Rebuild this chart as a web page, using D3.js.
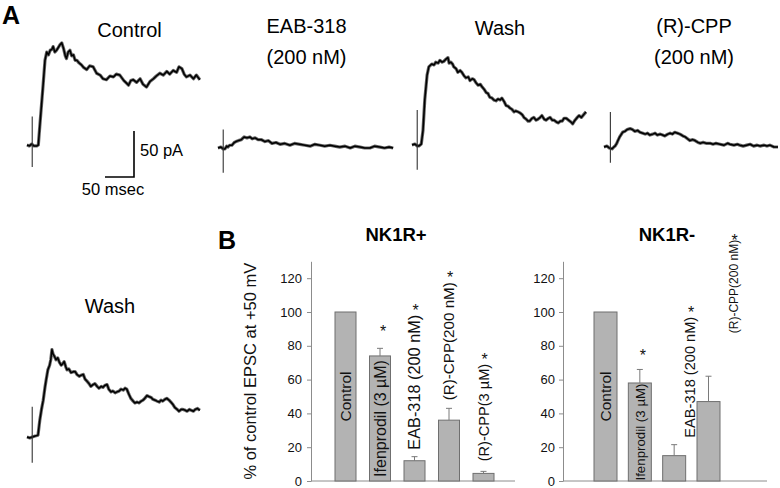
<!DOCTYPE html>
<html>
<head>
<meta charset="utf-8">
<script src="https://cdn.jsdelivr.net/npm/d3@7"></script>
<style>
  html, body { margin: 0; padding: 0; background: #fff; }
  svg { display: block; font-family: "Liberation Sans", Arial, sans-serif; }
</style>
</head>
<body>
<svg id="fig" width="780" height="488"></svg>
<script>
// ---------------- DATA ----------------
// Panel A: EPSC traces, [time (ms), current (pA) relative to baseline]
const traceControl = [[0,0],[4,-1],[8,1],[12,-1],[17,-1],[19.5,0],[22,20],[28,67],[31,92],[34,101],[37,98],[40,103],[43,104],[45,107],[48,101],[51,103],[54,106],[57,109],[60,111],[63,105],[66,97],[68,94],[71,101],[74,103],[77,97],[80,98],[83,92],[86,92],[90,89],[94,87],[98,84],[103,82],[108,86],[114,85],[120,78],[126,76],[131,72],[137,71],[143,75],[149,74],[154,77],[160,76],[167,70],[172,67],[175,65],[179,70],[183,71],[189,68],[195,72],[200,66],[206,63],[212,69],[218,72],[223,75],[229,78],[235,76],[241,80],[246,77],[252,81],[258,79],[262,85],[267,83],[271,77],[275,74],[281,76],[287,72],[292,76],[298,71]];
const traceEAB = [[0,0],[5,1],[9,-1],[12,-1],[15,2],[17,1],[20,3],[24,3],[28,6],[31,7],[35,8],[40,9],[45,12],[50,11],[55,12],[59,10],[64,11],[69,9],[75,9],[81,7],[87,8],[93,5],[100,6],[107,4],[115,5],[124,3],[132,5],[141,4],[150,3],[159,2],[167,4],[176,3],[184,2],[193,3],[201,2],[210,1],[219,2],[228,0],[236,2],[245,1],[253,0],[262,0],[270,2],[279,1],[287,0],[295,1],[302,0]];
const traceWash1 = [[0,0],[5,1],[9,-1],[12,-1],[16,1],[19,16],[22,49],[26,76],[29,85],[34,88],[38,87],[41,90],[45,89],[48,92],[52,90],[55,91],[58,93],[62,95],[64,89],[67,90],[70,88],[72,85],[76,83],[79,79],[83,81],[86,79],[90,75],[93,73],[97,74],[100,70],[104,72],[107,71],[110,68],[114,65],[118,66],[121,63],[125,60],[128,57],[131,56],[134,52],[138,51],[141,49],[145,48],[148,50],[152,49],[155,51],[159,47],[162,43],[166,42],[169,40],[172,39],[176,36],[179,37],[183,36],[186,35],[190,33],[193,30],[197,28],[200,26],[203,26],[207,29],[210,30],[214,27],[217,28],[221,30],[224,32],[228,28],[231,27],[235,29],[238,30],[242,27],[245,27],[249,25],[252,24],[256,26],[259,26],[262,29],[266,29],[270,27],[274,25],[277,23],[281,27],[285,30],[288,32],[292,30],[296,33],[300,36]];
const traceCPP = [[0,0],[5,1],[9,-1],[14,-2],[17,0],[19,1],[22,4],[24,7],[27,11],[29,13],[32,16],[36,17],[40,19],[45,20],[49,19],[53,17],[58,18],[62,16],[67,15],[71,14],[75,15],[79,13],[84,14],[88,15],[92,13],[97,14],[101,13],[105,12],[110,14],[114,15],[118,14],[122,16],[127,15],[131,14],[136,12],[140,11],[144,9],[148,7],[153,8],[157,7],[162,5],[166,4],[171,5],[176,4],[183,4],[188,3],[193,4],[200,3],[207,2],[213,4],[217,3],[224,2],[230,3],[234,2],[240,1],[246,2],[252,3],[258,1],[264,2],[269,1],[276,2],[281,1],[286,2],[293,0],[300,0]];
const traceWash2 = [[0,0],[5,-1],[9,0],[14,1],[19,2],[22,18],[25,30],[28,40],[31,54],[33,62],[36,73],[39,78],[41,84],[43,95],[45,90],[47,88],[50,84],[53,86],[56,81],[59,78],[62,80],[64,82],[67,76],[69,73],[72,74],[76,70],[80,71],[83,71],[86,68],[90,66],[93,67],[97,68],[100,63],[103,61],[107,58],[110,55],[114,57],[117,58],[121,55],[124,53],[128,55],[131,54],[134,56],[138,57],[141,52],[145,49],[148,50],[152,48],[155,49],[159,50],[162,52],[166,51],[169,53],[172,52],[176,46],[179,42],[183,39],[186,37],[190,38],[193,37],[197,39],[200,40],[203,42],[207,45],[210,44],[214,43],[217,41],[221,40],[224,39],[228,38],[231,40],[234,39],[238,41],[241,42],[245,40],[248,38],[252,35],[255,32],[259,30],[262,28],[266,30],[269,30],[273,29],[276,28],[280,30],[283,29],[287,28],[290,30],[294,31],[298,29]];

const traceTitles = [["Control"], ["EAB-318", "(200 nM)"], ["Wash"], ["(R)-CPP", "(200 nM)"], ["Wash"]];
const artifactTime = [9, 9, 9, 11, 9];          // ms
const artifactTop = [31, 20, 38, 38, 33];        // pA
const artifactBottom = [-24, -27, -27, -17, -28]; // pA
const scaleBarTime = 50;   // ms
const scaleBarCurrent = 50; // pA

// Panel B: bar charts (% of control EPSC at +50 mV)
const catsPlus = ["Control", "Ifenprodil (3 \u00b5M)", "EAB-318 (200 nM)", "(R)-CPP(200 nM)", "(R)-CPP(3 \u00b5M)"];
const valsPlus = [100, 74, 12, 36, 4.5];
const errPlus = [0, 4.5, 2.4, 7, 1.2];
const sigPlus = [false, true, true, true, true];

const catsMinus = ["Control", "Ifenprodil (3 \u00b5M)", "EAB-318 (200 nM)", "(R)-CPP(200 nM)"];
const valsMinus = [100, 58, 15, 47];
const errMinus = [0, 8, 6.5, 15];
const sigMinus = [false, true, true, true];

const yTicks = [0, 20, 40, 60, 80, 100, 120];
const yMax = 130;

// ---------------- DRAW ----------------
const svg = d3.select("#fig");
const FONT = "'Liberation Sans', Arial, sans-serif";

// Panel letters
svg.append("text").attr("x", 2).attr("y", 24).attr("font-size", 25).attr("font-weight", "bold").text("A");
svg.append("text").attr("x", 218).attr("y", 249).attr("font-size", 25).attr("font-weight", "bold").text("B");

// Trace scales (shared by all traces and scale bar)
const tx = d3.scaleLinear().domain([0, 50]).range([0, 29]);
const ty = d3.scaleLinear().domain([0, 50]).range([0, -46]);
const line = d3.line().x(d => tx(d[0])).y(d => ty(d[1]));

const traces = [traceControl, traceEAB, traceWash1, traceCPP, traceWash2];
const traceLayout = [
  {x: 27, y: 145, tx: 129.5, ty: 37},
  {x: 218, y: 148, tx: 306.5, ty: 33},
  {x: 412, y: 145, tx: 500, ty: 35},
  {x: 604, y: 147, tx: 694, ty: 33},
  {x: 27, y: 437, tx: 110, ty: 313}
];

traces.forEach((tr, i) => {
  const L = traceLayout[i];
  const g = svg.append("g").attr("transform", `translate(${L.x},${L.y})`);
  // noise band
  g.append("path").attr("d", line(tr)).attr("fill", "none")
    .attr("stroke", "#666").attr("stroke-width", 3.2).attr("stroke-linejoin", "round");
  g.append("path").attr("d", line(tr)).attr("fill", "none")
    .attr("stroke", "#000").attr("stroke-width", 1.5).attr("stroke-linejoin", "round");
  // stimulus artifact
  g.append("line")
    .attr("x1", tx(artifactTime[i])).attr("x2", tx(artifactTime[i]))
    .attr("y1", ty(artifactTop[i])).attr("y2", ty(artifactBottom[i]))
    .attr("stroke", "#333").attr("stroke-width", 1.1);
  // titles
  traceTitles[i].forEach((t, k) => {
    svg.append("text").attr("x", L.tx).attr("y", L.ty + k * 31)
      .attr("text-anchor", "middle").attr("font-size", 20).text(t);
  });
});

// Scale bar
const sb = svg.append("g").attr("transform", "translate(134,177)");
sb.append("path")
  .attr("d", `M${-tx(scaleBarTime)},0 H0 V${ty(scaleBarCurrent)}`)
  .attr("fill", "none").attr("stroke", "#000").attr("stroke-width", 1.6);
svg.append("text").attr("x", 140).attr("y", 156).attr("font-size", 16.5).text(`${scaleBarCurrent} pA`);
svg.append("text").attr("x", 113).attr("y", 195).attr("text-anchor", "middle").attr("font-size", 16.5).text(`${scaleBarTime} msec`);

// Bar charts
const y = d3.scaleLinear().domain([0, yMax]).range([481, 481 - 169 * yMax / 100]);

function barPanel(opts) {
  const {cats, vals, errs, sig, axisX, axisEnd, first, last, barW, title, titleX, labelSizes, insideN, starDy, labelDx, labelGap, starGap, showYTitle, tickPad} = opts;
  const x = d3.scalePoint().domain(cats).range([first, last]);
  const g = svg.append("g");

  // y axis
  const ax = g.append("g").attr("transform", `translate(${axisX},0)`)
    .call(d3.axisLeft(y).tickValues(yTicks).tickSize(4).tickSizeOuter(0).tickPadding(tickPad));
  ax.select(".domain").attr("stroke", "#8c8c8c");
  ax.selectAll(".tick line").attr("stroke", "#8c8c8c");
  ax.selectAll(".tick text").attr("font-size", 13).attr("font-family", FONT).attr("fill", "#111");

  // x axis line
  g.append("line").attr("x1", axisX).attr("x2", axisEnd).attr("y1", y(0)).attr("y2", y(0))
    .attr("stroke", "#8c8c8c").attr("stroke-width", 1);

  // bars
  g.selectAll("rect.bar").data(cats).join("rect").attr("class", "bar")
    .attr("x", d => x(d) - barW / 2).attr("width", barW)
    .attr("y", (d, i) => y(vals[i])).attr("height", (d, i) => y(0) - y(vals[i]))
    .attr("fill", "#b3b3b3").attr("stroke", "#6f6f6f").attr("stroke-width", 1);

  // error bars (upper only)
  cats.forEach((c, i) => {
    if (!errs[i]) return;
    const cx = x(c), yt = y(vals[i] + errs[i]);
    g.append("line").attr("x1", cx).attr("x2", cx).attr("y1", y(vals[i])).attr("y2", yt)
      .attr("stroke", "#7a7a7a").attr("stroke-width", 1);
    g.append("line").attr("x1", cx - 3).attr("x2", cx + 3).attr("y1", yt).attr("y2", yt)
      .attr("stroke", "#7a7a7a").attr("stroke-width", 1);
  });

  // rotated labels + significance stars
  cats.forEach((c, i) => {
    const cx = x(c) + labelDx[i];
    const fs = labelSizes[i];
    const t = g.append("text").attr("font-size", fs).attr("fill", "#111").text(c);
    const len = t.node().getComputedTextLength();
    let yBottom;
    if (i < insideN) {
      const mid = (y(vals[i]) + y(0)) / 2;
      yBottom = mid + len / 2;
    } else {
      yBottom = y(vals[i] + errs[i]) - labelGap[i];
    }
    t.attr("transform", `translate(${cx + fs * 0.36},${yBottom}) rotate(-90)`);
    if (sig[i]) {
      let starCenter, sx = cx + 1;
      if (i < insideN) { starCenter = y(vals[i] + errs[i]) - starDy; sx = x(c) + 3; }
      else starCenter = yBottom - len - starGap[i];
      g.append("text").attr("x", sx).attr("y", starCenter + 9)
        .attr("text-anchor", "middle").attr("font-size", 16).attr("fill", "#111").text("*");
    }
  });

  // title
  g.append("text").attr("x", titleX).attr("y", 241).attr("text-anchor", "middle")
    .attr("font-size", 18.5).attr("font-weight", "bold").text(title);

  if (showYTitle) {
    g.append("text").attr("transform", `translate(256,${(y(0) + y(yMax)) / 2}) rotate(-90)`)
      .attr("text-anchor", "middle").attr("font-size", 16.5).attr("fill", "#111")
      .text("% of control EPSC at +50 mV");
  }
}

barPanel({cats: catsPlus, vals: valsPlus, errs: errPlus, sig: sigPlus,
  axisX: 311, axisEnd: 515, first: 345.5, last: 483.5, barW: 21,
  title: "NK1R+", titleX: 396, labelSizes: [15.5, 16, 16.3, 15.2, 14.6], insideN: 2, starDy: 20,
  labelDx: [0, 0, 0, 0, 0], labelGap: [0, 0, 7, 8, 10], starGap: [0, 0, 8, 8, 8], showYTitle: true, tickPad: 5});

barPanel({cats: catsMinus, vals: valsMinus, errs: errMinus, sig: sigMinus,
  axisX: 563, axisEnd: 767, first: 605.5, last: 708.5, barW: 23,
  title: "NK1R-", titleX: 667, labelSizes: [15.5, 13.3, 14.6, 12], insideN: 2, starDy: 17,
  labelDx: [0, 0, 16, 25], labelGap: [0, 0, 7, 43], starGap: [0, 0, 8, 3], showYTitle: false, tickPad: 4});
</script>
</body>
</html>
